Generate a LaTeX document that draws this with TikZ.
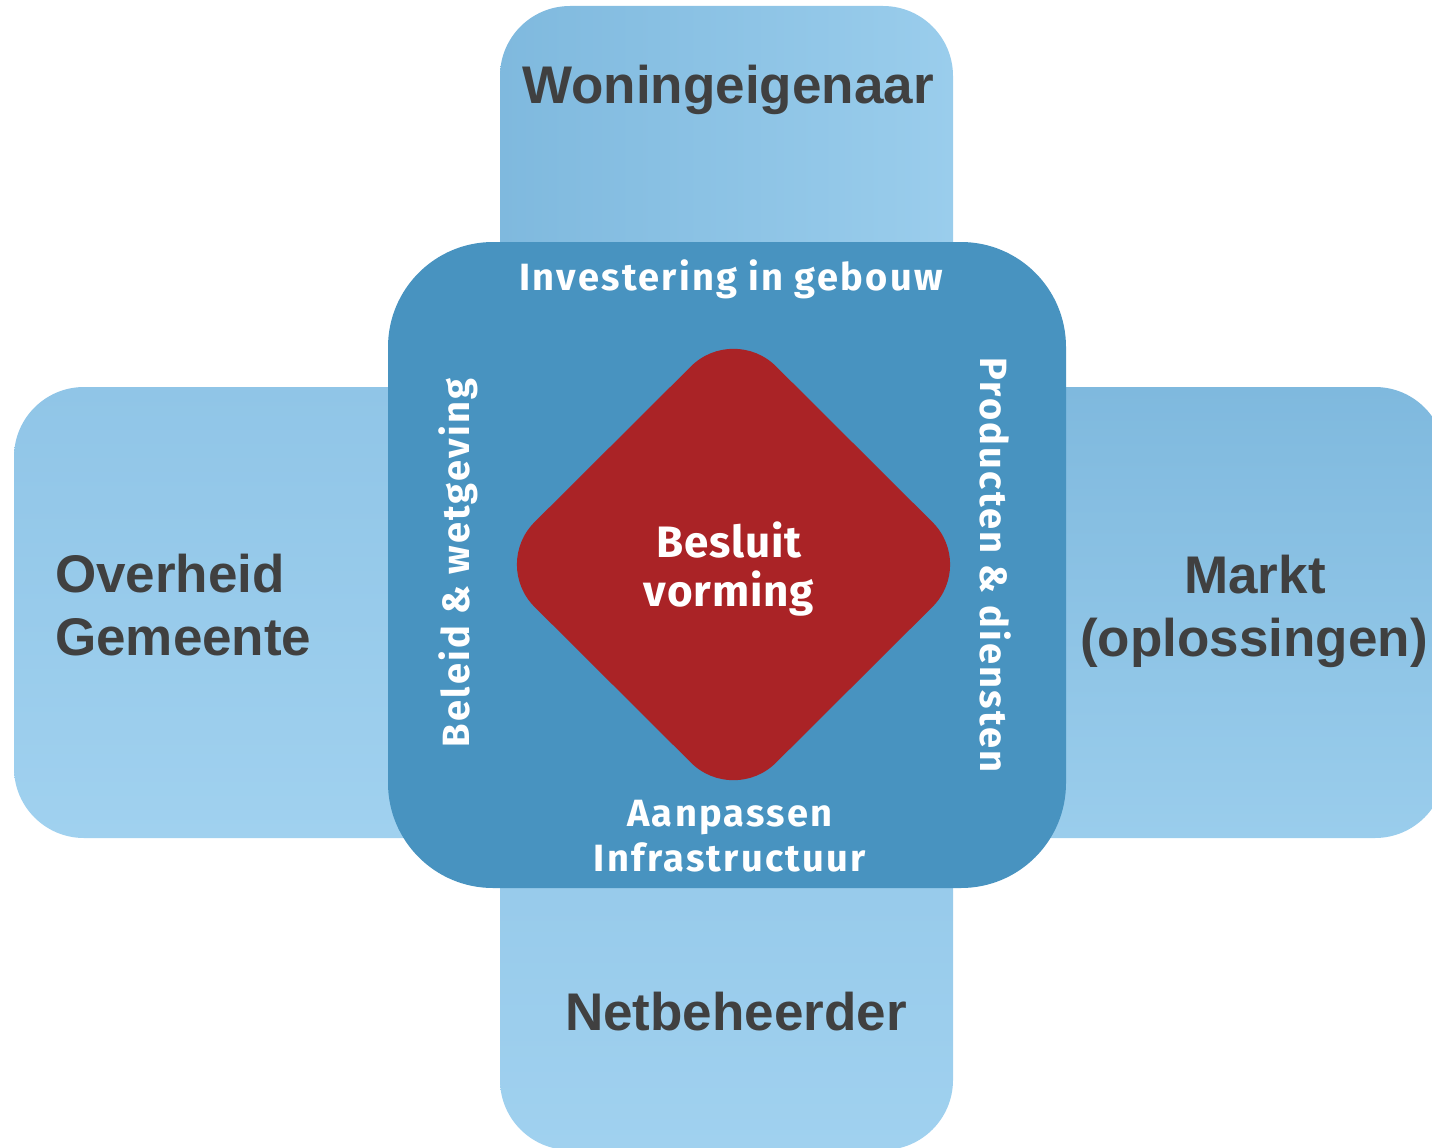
\documentclass[tikz,border=0pt]{standalone}
\usepackage{fontspec}
\setmainfont{Liberation Sans}
\newfontfamily\innerfont[LetterSpace=6]{Fira Sans}
\newfontfamily\centerfont[LetterSpace=2]{Fira Sans}
\definecolor{boxtext}{HTML}{404040}
\definecolor{midblue}{HTML}{4893C0}
\definecolor{redd}{HTML}{AA2326}
\definecolor{lbA}{HTML}{7FB9DE}
\definecolor{lbB}{HTML}{9ACDEC}
\definecolor{lbC}{HTML}{90C5E7}
\definecolor{lbD}{HTML}{A0D1EF}
\tikzset{
  outerbox/.style={rounded corners=70pt},
  biglabel/.style={font=\fontsize{53}{63}\selectfont\bfseries, text=boxtext, anchor=base, inner sep=0pt},
  innerlabel/.style={font=\innerfont\fontsize{38}{44}\selectfont\bfseries, text=white, anchor=base, inner sep=0pt},
  centerlabel/.style={font=\centerfont\fontsize{44}{50}\selectfont\bfseries, text=white, anchor=base, inner sep=0pt},
}
\begin{document}
\begin{tikzpicture}[x=1pt,y=-1pt]
\useasboundingbox (0,0) rectangle (1432,1148);
\clip (0,0) rectangle (1432,1148);
% outer boxes
\path[outerbox, left color=lbA, right color=lbB] (500,6) rectangle (953,500);
\path[outerbox, top color=lbC, bottom color=lbD] (500,650) rectangle (953,1150);
\path[outerbox, top color=lbC, bottom color=lbD] (14,387) rectangle (520,838);
\path[outerbox, top color=lbA, bottom color=lbB] (960,387) rectangle (1445,838);
% center box
\path[fill=midblue, rounded corners=105pt] (388,242) rectangle (1066,888);
% diamond
\path[fill=redd, rounded corners=60pt] (733.5,324) -- (975,564.5) -- (733.5,805) -- (492,564.5) -- cycle;
% big labels
\node[biglabel] (wo) at (728,103) {Woningeigenaar};
\node[biglabel] (nb) at (736,1030) {Netbeheerder};
\node[biglabel, anchor=base west] (ov) at (55,592) {Overheid};
\node[biglabel, anchor=base west] (ge) at (55,655) {Gemeente};
\node[biglabel] (ma) at (1255,593) {Markt};
\node[biglabel] (op) at (1254,656) {(oplossingen)};
% inner labels
\node[innerlabel] (inv) at (731,290) {Investering in gebouw};
\node[centerlabel] (be) at (729,557) {Besluit};
\node[centerlabel] (vo) at (729,606) {vorming};
\node[innerlabel] (aa) at (730,826) {Aanpassen};
\node[innerlabel] (in) at (730,871) {Infrastructuur};
\node[innerlabel, rotate=90] (bl) at (469,563) {Beleid \& wetgeving};
\node[innerlabel, rotate=-90] (pr) at (980,565) {Producten \& diensten};
\end{tikzpicture}
\end{document}
